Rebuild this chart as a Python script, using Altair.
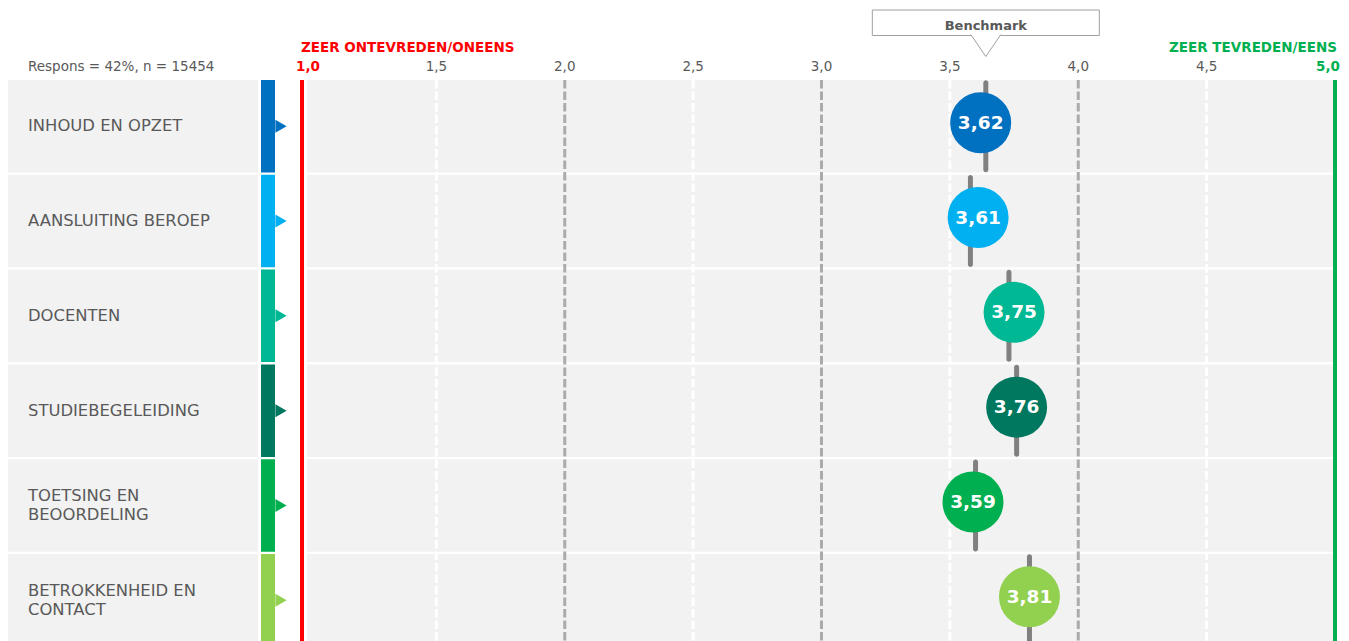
import altair as alt
import pandas as pd

# ---------------- data ----------------
CATEGORIES = ["INHOUD EN OPZET", "AANSLUITING BEROEP", "DOCENTEN",
              "STUDIEBEGELEIDING", "TOETSING EN BEOORDELING", "BETROKKENHEID EN CONTACT"]
LABELS = ["INHOUD EN OPZET", "AANSLUITING BEROEP", "DOCENTEN",
          "STUDIEBEGELEIDING", "TOETSING EN\nBEOORDELING", "BETROKKENHEID EN\nCONTACT"]
SCORES = [3.62, 3.61, 3.75, 3.76, 3.59, 3.81]
BENCHMARKS = [3.64, 3.58, 3.73, 3.76, 3.60, 3.81]
TICKS = [1.0, 1.5, 2.0, 2.5, 3.0, 3.5, 4.0, 4.5, 5.0]
END_VALUES = [1.0, 5.0]
END_TEXTS = ["ZEER ONTEVREDEN/ONEENS", "ZEER TEVREDEN/EENS"]
RESPONSE_TEXT = "Respons = 42%, n = 15454"
BENCH_TEXT = "Benchmark"

COLORS = ["#0070c0", "#00b0f0", "#00b894", "#00775f", "#00b050", "#92d050"]
FONT = "DejaVu Sans"
GRAY_TXT = "#595959"
RED = "#ff0000"
GREEN = "#00b050"

rows = pd.DataFrame({"cat": CATEGORIES, "label": LABELS,
                     "score": SCORES, "bench": BENCHMARKS})
ticks = pd.DataFrame({"t": TICKS})
ends = pd.DataFrame({"t": END_VALUES, "text": END_TEXTS})
bench0 = pd.DataFrame({"b": [BENCHMARKS[0]], "text": [BENCH_TEXT]})
resp = pd.DataFrame({"text": [RESPONSE_TEXT]})

X_SCALE = alt.Scale(domain=[1, 5], range=[300, 1327], nice=False, zero=False)
Y_SCALE = alt.Scale(domain=CATEGORIES, range=[72, 638.5], paddingInner=0.0243, paddingOuter=0)
C_SCALE = alt.Scale(domain=CATEGORIES, range=COLORS)

Y = alt.Y("cat:N", scale=Y_SCALE, axis=None, sort=CATEGORIES)
COL = alt.Color("cat:N", scale=C_SCALE, legend=None)

def XQ(f):
    return alt.X(f, type="quantitative", scale=X_SCALE, axis=None)

label_bg = alt.Chart(rows).mark_rect(color="#f2f2f2").encode(
    y=Y, x=alt.value(0), x2=alt.value(250))
plot_bg = alt.Chart(rows).mark_rect(color="#f2f2f2").encode(
    y=Y, x=alt.value(299), x2=alt.value(1326))
bars = alt.Chart(rows).mark_rect().encode(
    y=Y, x=alt.value(253), x2=alt.value(267), color=COL)
tri = alt.Chart(rows).mark_point(shape="triangle-right", size=169, filled=True, opacity=1).encode(
    y=Y, x=alt.value(273), color=COL)

half_grid = alt.Chart(ticks).transform_filter("datum.t % 1 != 0").mark_rule(
    color="white", strokeWidth=3, strokeDash=[8.5, 3]).encode(
    x=XQ("t"), y=alt.value(72), y2=alt.value(641))
int_grid = alt.Chart(ticks).transform_filter("datum.t % 1 == 0 && datum.t > 1 && datum.t < 5").mark_rule(
    color="#ababab", strokeWidth=3, strokeDash=[8.5, 3]).encode(
    x=XQ("t"), y=alt.value(72), y2=alt.value(641))
red_rule = alt.Chart(ticks).transform_filter("datum.t == 1").mark_rule(
    color=RED, strokeWidth=4, xOffset=-6).encode(
    x=XQ("t"), y=alt.value(72), y2=alt.value(641))
green_rule = alt.Chart(ticks).transform_filter("datum.t == 5").mark_rule(
    color=GREEN, strokeWidth=4).encode(
    x=XQ("t"), y=alt.value(72), y2=alt.value(641))

bench_ticks = alt.Chart(rows).mark_tick(
    color="#808080", thickness=5, size=92, opacity=1, cornerRadius=2.5, orient="vertical").encode(
    x=XQ("bench"), y=Y)
circles = alt.Chart(rows).mark_circle(size=3721, opacity=1, yOffset=-3.5).encode(
    x=XQ("score"), y=Y, color=COL)
circle_txt = alt.Chart(rows).transform_calculate(
    lbl="replace(format(datum.score, '.2f'), '.', ',')").mark_text(
    color="white", fontWeight="bold", fontSize=18.5, font=FONT, yOffset=-3.5, baseline="middle").encode(
    x=XQ("score"), y=Y, text="lbl:N")

cat_one = alt.Chart(rows).transform_filter("indexof(datum.label, '\\n') < 0").mark_text(
    align="left", baseline="middle", fontSize=16.4, color=GRAY_TXT, font=FONT).encode(
    x=alt.value(20), y=Y, text="label:N")
cat_two = alt.Chart(rows).transform_filter("indexof(datum.label, '\\n') >= 0").mark_text(
    align="left", baseline="middle", fontSize=16.4, color=GRAY_TXT, font=FONT,
    lineBreak="\n", lineHeight=19, dy=-9.5).encode(
    x=alt.value(20), y=Y, text="label:N")

tick_txt = alt.Chart(ticks).transform_filter("datum.t > 1 && datum.t < 5").transform_calculate(
    lbl="replace(format(datum.t, '.1f'), '.', ',')").mark_text(
    fontSize=13.5, color=GRAY_TXT, font=FONT, baseline="alphabetic").encode(
    x=XQ("t"), y=alt.value(63), text="lbl:N")
tick_low = alt.Chart(ticks).transform_filter("datum.t == 1").transform_calculate(
    lbl="replace(format(datum.t, '.1f'), '.', ',')").mark_text(
    fontSize=13.5, color=RED, font=FONT, fontWeight="bold", baseline="alphabetic").encode(
    x=XQ("t"), y=alt.value(63), text="lbl:N")
tick_high = alt.Chart(ticks).transform_filter("datum.t == 5").transform_calculate(
    lbl="replace(format(datum.t, '.1f'), '.', ',')").mark_text(
    fontSize=13.5, color=GREEN, font=FONT, fontWeight="bold", baseline="alphabetic",
    align="right", dx=5).encode(
    x=XQ("t"), y=alt.value(63), text="lbl:N")

low_txt = alt.Chart(ends).transform_filter("datum.t == 1").mark_text(
    align="left", dx=-7, fontSize=13.5, color=RED, font=FONT, fontWeight="bold", baseline="alphabetic").encode(
    x=XQ("t"), y=alt.value(44.3), text="text:N")
high_txt = alt.Chart(ends).transform_filter("datum.t == 5").mark_text(
    align="right", dx=2, fontSize=13.5, color=GREEN, font=FONT, fontWeight="bold", baseline="alphabetic").encode(
    x=XQ("t"), y=alt.value(44.3), text="text:N")

resp_txt = alt.Chart(resp).mark_text(
    align="left", fontSize=13.5, color=GRAY_TXT, font=FONT, baseline="alphabetic").encode(
    x=alt.value(20), y=alt.value(63), text="text:N")

box = alt.Chart(bench0).mark_rect(
    fill="white", stroke="#a0a0a0", strokeWidth=1, xOffset=-113.5, x2Offset=113.5).encode(
    x=XQ("b"), x2="b:Q", y=alt.value(2), y2=alt.value(27.5))
pointer = alt.Chart(bench0).mark_point(
    shape="M-1,-0.06L0,1.4L1,-0.06", size=900, filled=True, fill="white",
    stroke="#a0a0a0", strokeWidth=1, opacity=1).encode(
    x=XQ("b"), y=alt.value(27.5))
box_txt = alt.Chart(bench0).mark_text(
    fontSize=13, fontWeight="bold", color=GRAY_TXT, font=FONT, baseline="alphabetic").encode(
    x=XQ("b"), y=alt.value(21.5), text="text:N")

chart = alt.layer(
    label_bg, plot_bg, bars, tri, half_grid, int_grid, red_rule, green_rule,
    bench_ticks, circles, circle_txt, cat_one, cat_two, tick_txt, tick_low, tick_high,
    low_txt, high_txt, resp_txt, box, pointer, box_txt
).properties(
    width=1333, height=641,
    autosize=alt.AutoSizeParams(type="none"),
    padding=0,
    background="white",
).configure_view(stroke=None)

chart.save("out.html", embed_options={"renderer": "svg", "actions": False})
